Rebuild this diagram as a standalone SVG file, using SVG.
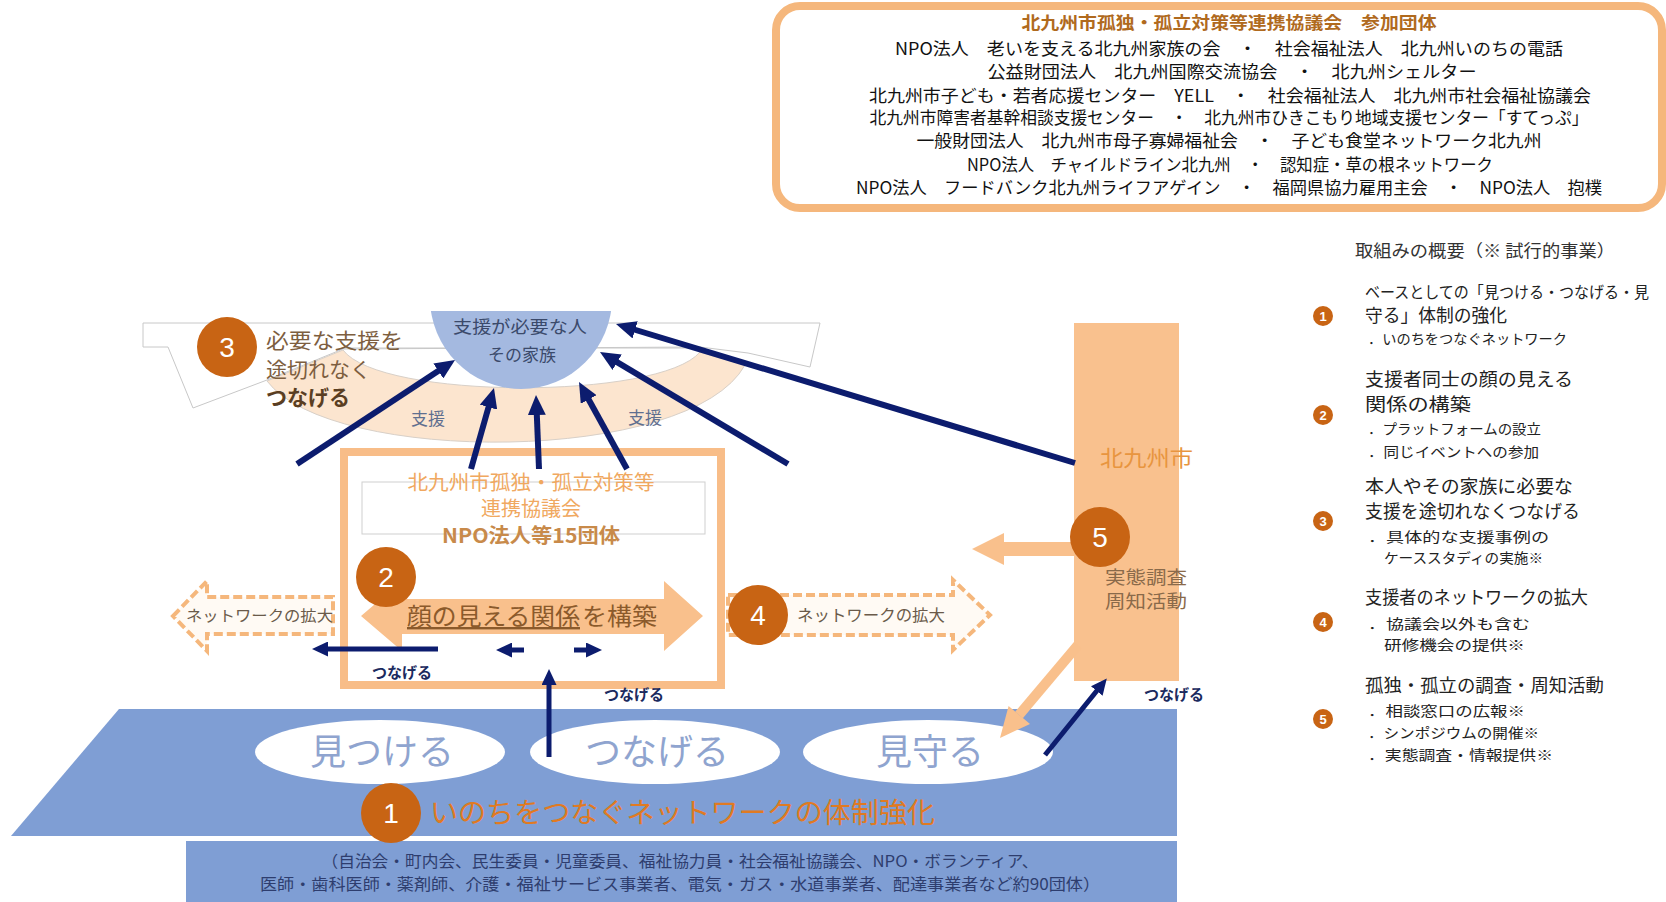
<svg xmlns="http://www.w3.org/2000/svg" width="1666" height="902" viewBox="0 0 1666 902">
<defs>
<style>
text{font-family:"Noto Sans CJK JP","Noto Sans CJK SC",sans-serif;}
.num{font-family:"Liberation Sans","Noto Sans",sans-serif;fill:#fff;font-size:28px;text-anchor:middle;}
.lnum{font-family:"Liberation Sans","Noto Sans",sans-serif;fill:#fff;font-size:13px;font-weight:bold;text-anchor:middle;}
.ocirc{fill:#C86414;}
.navy{stroke:#0C1C6E;stroke-width:6;fill:none;marker-end:url(#nh);}
.navyS{stroke:#0C1C6E;stroke-width:5;fill:none;marker-end:url(#nhs);}
.lst{font-size:14px;fill:#222;}
.lhd{font-size:18px;fill:#222;}
.org{font-size:17px;fill:#111;text-anchor:middle;}
.tsu{font-size:15px;fill:#1B2A5E;font-weight:bold;}
.dash{fill:#FFFAF4;stroke:#F5B77C;stroke-width:4;stroke-dasharray:9 4;}
.peach{fill:#F9C08C;}
.ell{fill:#fff;}
.elt{font-size:36px;fill:#8FA4CF;text-anchor:middle;}
</style>
<marker id="nh" markerUnits="userSpaceOnUse" markerWidth="20" markerHeight="18" viewBox="0 0 20 18" refX="8" refY="9" orient="auto"><path d="M0,0 L20,9 L0,18 Z" fill="#0C1C6E"/></marker>
<marker id="nhs" markerUnits="userSpaceOnUse" markerWidth="16" markerHeight="15" viewBox="0 0 16 15" refX="6" refY="7.5" orient="auto"><path d="M0,0 L16,7.5 L0,15 Z" fill="#0C1C6E"/></marker>
<clipPath id="circClip"><rect x="400" y="311" width="260" height="120"/></clipPath>
</defs>

<!-- participating organisations box -->
<g id="orgs">
<rect x="776" y="6" width="886" height="202" rx="24" fill="#fff" stroke="#F5B77C" stroke-width="8"/>
<text x="1229" y="29" font-size="17" font-weight="bold" fill="#B06A1E" text-anchor="middle" textLength="415" lengthAdjust="spacingAndGlyphs">北九州市孤独・孤立対策等連携協議会　参加団体</text>
<text class="org" x="1229" y="55" textLength="668" lengthAdjust="spacingAndGlyphs">NPO法人　老いを支える北九州家族の会　・　社会福祉法人　北九州いのちの電話</text>
<text class="org" x="1232" y="78" textLength="489" lengthAdjust="spacingAndGlyphs">公益財団法人　北九州国際交流協会　・　北九州シェルター</text>
<text class="org" x="1230" y="102" textLength="722" lengthAdjust="spacingAndGlyphs">北九州市子ども・若者応援センター　YELL　・　社会福祉法人　北九州市社会福祉協議会</text>
<text class="org" x="1229" y="124" textLength="719" lengthAdjust="spacingAndGlyphs">北九州市障害者基幹相談支援センター　・　北九州市ひきこもり地域支援センター「すてっぷ」</text>
<text class="org" x="1229" y="147" textLength="625" lengthAdjust="spacingAndGlyphs">一般財団法人　北九州市母子寡婦福祉会　・　子ども食堂ネットワーク北九州</text>
<text class="org" x="1230" y="171" textLength="526" lengthAdjust="spacingAndGlyphs">NPO法人　チャイルドライン北九州　・　認知症・草の根ネットワーク</text>
<text class="org" x="1229" y="194" textLength="746" lengthAdjust="spacingAndGlyphs">NPO法人　フードバンク北九州ライフアゲイン　・　福岡県協力雇用主会　・　NPO法人　抱樸</text>
</g>

<!-- legend -->
<g id="legend">
<text x="1355" y="257" font-size="17" fill="#333" textLength="260" lengthAdjust="spacingAndGlyphs">取組みの概要（※ 試行的事業）</text>
<circle class="ocirc" cx="1323" cy="316" r="10"/><text class="lnum" x="1323" y="321">1</text>
<text x="1365" y="298" font-size="15.5" fill="#222" textLength="284" lengthAdjust="spacingAndGlyphs">ベースとしての「見つける・つなげる・見</text>
<text class="lhd" x="1365" y="322" textLength="142" lengthAdjust="spacingAndGlyphs">守る」体制の強化</text>
<text class="lst" x="1368" y="344" textLength="199" lengthAdjust="spacingAndGlyphs">．いのちをつなぐネットワーク</text>
<circle class="ocirc" cx="1323" cy="415" r="10"/><text class="lnum" x="1323" y="420">2</text>
<text class="lhd" x="1365" y="386" textLength="208" lengthAdjust="spacingAndGlyphs">支援者同士の顔の見える</text>
<text class="lhd" x="1365" y="411" textLength="106" lengthAdjust="spacingAndGlyphs">関係の構築</text>
<text class="lst" x="1368" y="434" textLength="173" lengthAdjust="spacingAndGlyphs">．プラットフォームの設立</text>
<text class="lst" x="1368" y="457" textLength="171" lengthAdjust="spacingAndGlyphs">．同じイベントへの参加</text>
<circle class="ocirc" cx="1323" cy="521" r="10"/><text class="lnum" x="1323" y="526">3</text>
<text class="lhd" x="1365" y="493" textLength="208" lengthAdjust="spacingAndGlyphs">本人やその家族に必要な</text>
<text class="lhd" x="1365" y="518" textLength="215" lengthAdjust="spacingAndGlyphs">支援を途切れなくつなげる</text>
<text class="lst" x="1368" y="542" textLength="181" lengthAdjust="spacingAndGlyphs">．具体的な支援事例の</text>
<text class="lst" x="1384" y="563" textLength="159" lengthAdjust="spacingAndGlyphs">ケーススタディの実施※</text>
<circle class="ocirc" cx="1323" cy="622" r="10"/><text class="lnum" x="1323" y="627">4</text>
<text class="lhd" x="1365" y="604" textLength="223" lengthAdjust="spacingAndGlyphs">支援者のネットワークの拡大</text>
<text class="lst" x="1368" y="629" textLength="162" lengthAdjust="spacingAndGlyphs">．協議会以外も含む</text>
<text class="lst" x="1384" y="650" textLength="141" lengthAdjust="spacingAndGlyphs">研修機会の提供※</text>
<circle class="ocirc" cx="1323" cy="719" r="10"/><text class="lnum" x="1323" y="724">5</text>
<text class="lhd" x="1365" y="692" textLength="239" lengthAdjust="spacingAndGlyphs">孤独・孤立の調査・周知活動</text>
<text class="lst" x="1368" y="716" textLength="157" lengthAdjust="spacingAndGlyphs">．相談窓口の広報※</text>
<text class="lst" x="1368" y="738" textLength="171" lengthAdjust="spacingAndGlyphs">．シンポジウムの開催※</text>
<text class="lst" x="1368" y="760" textLength="185" lengthAdjust="spacingAndGlyphs">．実態調査・情報提供※</text>
</g>

<!-- support arc (3) -->
<g id="support-arc">
<path d="M143,323 L820,323 L810,367 L748,353 L700,347 L343,349 L267,380 L193,408 L168,347 L143,347 Z" fill="#fff" stroke="#C8C8C8" stroke-width="1"/>
<path d="M267,381 C330,465 690,465 745,365 L700,352 C660,400 380,400 343,350 Z" fill="#FCE5CF" stroke="#D8D0C8" stroke-width="1"/>
<line x1="343" y1="348" x2="700" y2="348" stroke="#C8C8C8" stroke-width="1"/>
<text x="428" y="425" font-size="17" fill="#5F6F8F" text-anchor="middle">支援</text>
<text x="645" y="424" font-size="17" fill="#5F6F8F" text-anchor="middle">支援</text>
<circle class="ocirc" cx="227" cy="347" r="30"/><text class="num" x="227" y="357">3</text>
<text x="266" y="348" font-size="21" fill="#7D5E3F" textLength="137" lengthAdjust="spacingAndGlyphs">必要な支援を</text>
<text x="266" y="377" font-size="21" fill="#7D5E3F">途切れなく</text>
<text x="266" y="405" font-size="21" font-weight="bold" fill="#5A3E22">つなげる</text>
</g>

<!-- person in need -->
<g id="person">
<circle cx="521" cy="298" r="91" fill="#A4B9E0" clip-path="url(#circClip)"/>
<text x="520" y="333" font-size="17" fill="#3B4A6B" text-anchor="middle" textLength="134" lengthAdjust="spacingAndGlyphs">支援が必要な人</text>
<text x="522" y="361" font-size="17" fill="#3B4A6B" text-anchor="middle">その家族</text>
</g>

<!-- council box (2) -->
<g id="council">
<rect x="344" y="452" width="377" height="233" fill="#fff" stroke="#F8BD88" stroke-width="8"/>
<rect x="362" y="482" width="343" height="52" fill="#fff" stroke="#CFCFCF" stroke-width="1"/>
<text x="531" y="490" font-size="20" fill="#F0A860" text-anchor="middle" textLength="247" lengthAdjust="spacingAndGlyphs">北九州市孤独・孤立対策等</text>
<text x="531" y="516" font-size="20" fill="#F0A860" text-anchor="middle">連携協議会</text>
<text x="531" y="543" font-size="20" font-weight="bold" fill="#C88A4A" text-anchor="middle" textLength="178" lengthAdjust="spacingAndGlyphs">NPO法人等15団体</text>
<polygon class="peach" points="361,616 402,581 402,599 664,599 664,581 703,616 664,651 664,634 402,634 402,651"/>
<text x="407" y="625" font-size="24" fill="#8B5A2B" text-decoration="underline" textLength="173" lengthAdjust="spacingAndGlyphs">顔の見える関係</text>
<text x="582" y="625" font-size="24" fill="#8B5A2B" textLength="75" lengthAdjust="spacingAndGlyphs">を構築</text>
<circle class="ocirc" cx="386" cy="577" r="30"/><text class="num" x="386" y="587">2</text>
<text class="tsu" x="372" y="678">つなげる</text>
</g>

<!-- network expansion arrows (4) -->
<g id="expand-left">
<polygon class="dash" points="173,616 207,581 207,597 333,597 333,634 207,634 207,651"/>
<text x="186" y="621" font-size="15" fill="#6A5A4A" textLength="147" lengthAdjust="spacingAndGlyphs">ネットワークの拡大</text>
</g>
<g id="expand-right">
<polygon class="dash" points="728,595 953,595 953,580 990,615 953,650 953,635 728,635"/>
<text x="797" y="621" font-size="16" fill="#6A5A4A" textLength="148" lengthAdjust="spacingAndGlyphs">ネットワークの拡大</text>
<circle class="ocirc" cx="758" cy="615" r="30"/><text class="num" x="758" y="625">4</text>
</g>

<!-- city (5) -->
<g id="city">
<rect x="1074" y="323" width="105" height="358" fill="#F9C18E"/>
<text x="1100" y="466" font-size="22" fill="#E8953F" textLength="93" lengthAdjust="spacingAndGlyphs">北九州市</text>
<text x="1105" y="584" font-size="18" fill="#8A6A4A" textLength="82" lengthAdjust="spacingAndGlyphs">実態調査</text>
<text x="1105" y="608" font-size="18" fill="#8A6A4A" textLength="82" lengthAdjust="spacingAndGlyphs">周知活動</text>
</g>

<!-- base network (1) -->
<g id="network">
<polygon points="119,709 1177,709 1177,836 11,836" fill="#7F9ED4"/>
<rect x="186" y="841" width="991" height="61" fill="#7F9ED4"/>
<text x="680" y="867" font-size="16" fill="#2E3D6E" text-anchor="middle" textLength="717" lengthAdjust="spacingAndGlyphs">（自治会・町内会、民生委員・児童委員、福祉協力員・社会福祉協議会、NPO・ボランティア、</text>
<text x="680" y="890" font-size="16" fill="#2E3D6E" text-anchor="middle" textLength="840" lengthAdjust="spacingAndGlyphs">医師・歯科医師・薬剤師、介護・福祉サービス事業者、電気・ガス・水道事業者、配達事業者など約90団体）</text>
<ellipse class="ell" cx="380" cy="752" rx="125" ry="32"/>
<ellipse class="ell" cx="655" cy="752" rx="125" ry="32"/>
<ellipse class="ell" cx="928" cy="752" rx="125" ry="32"/>
<text class="elt" x="382" y="765">見つける</text>
<text class="elt" x="657" y="765">つなげる</text>
<text class="elt" x="930" y="765">見守る</text>
<circle class="ocirc" cx="391" cy="813" r="30"/><text class="num" x="391" y="823">1</text>
<text x="430" y="823" font-size="28" fill="#E07A22" textLength="505" lengthAdjust="spacingAndGlyphs">いのちをつなぐネットワークの体制強化</text>
</g>

<!-- connectors -->
<g id="connectors">
<line class="navy" x1="297" y1="464" x2="445" y2="366.6"/>
<line class="navy" x1="471" y1="469" x2="490.7" y2="399.5"/>
<line class="navy" x1="539" y1="469" x2="536.5" y2="407"/>
<line class="navy" x1="627" y1="469" x2="584.8" y2="392.5"/>
<line class="navy" x1="788" y1="464" x2="610.3" y2="358.1"/>
<line class="navy" x1="1075" y1="463" x2="627.5" y2="327.5"/>
<line class="navyS" x1="438" y1="649" x2="322" y2="649"/>
<line class="navyS" x1="524" y1="650" x2="506" y2="650"/>
<line class="navyS" x1="574" y1="650" x2="592" y2="650"/>
<line class="navyS" x1="549" y1="757" x2="549" y2="679"/>
<line class="navyS" x1="1045" y1="755" x2="1100.5" y2="686.3"/>
<polygon class="peach" points="972,549 1004,533 1004,542 1075,542 1075,556 1004,556 1004,565"/>
<line x1="1078" y1="645" x2="1019" y2="715" stroke="#F9C08C" stroke-width="10"/>
<polygon class="peach" points="1000,738 1030,724 1008.6,706"/>
<circle class="ocirc" cx="1100" cy="537" r="30"/><text class="num" x="1100" y="547">5</text>
<text class="tsu" x="634" y="700" text-anchor="middle">つなげる</text>
<text class="tsu" x="1174" y="700" text-anchor="middle">つなげる</text>
</g>
</svg>
